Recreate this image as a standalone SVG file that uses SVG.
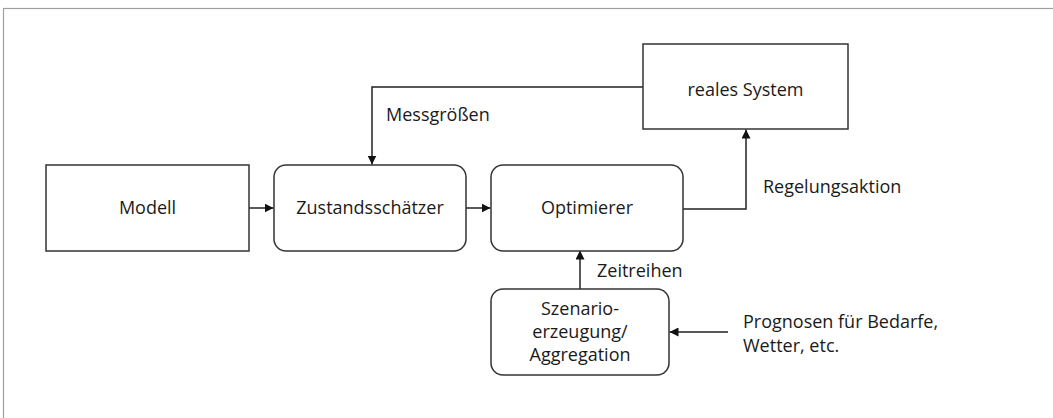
<svg xmlns="http://www.w3.org/2000/svg" width="1053" height="418" viewBox="0 0 1053 418">
<defs>
<style>
.box{fill:#fff;stroke:#333;stroke-width:1.5}
.con{fill:none;stroke:#222;stroke-width:1.5}
text{font-family:"Open Sans","Liberation Sans",sans-serif;font-size:18px;fill:#1a1a1a}
.c{text-anchor:middle}
</style>
<marker id="ah" viewBox="0 0 10 10" refX="10" refY="5" markerWidth="9" markerHeight="9" markerUnits="userSpaceOnUse" orient="auto">
<path d="M0,0 L10,5 L0,10 z" fill="#111"/>
</marker>
</defs>
<rect x="0" y="0" width="1053" height="418" fill="#fff"/>
<rect x="3.5" y="8.5" width="1060" height="420" fill="none" stroke="#a0a0a0" stroke-width="1.2"/>
<g id="connectors">
<path class="con" d="M643,87 H372 V164.5" marker-end="url(#ah)"/>
<path class="con" d="M249,208 H273.5" marker-end="url(#ah)"/>
<path class="con" d="M466,208 H490.5" marker-end="url(#ah)"/>
<path class="con" d="M683,209 H746 V129.5" marker-end="url(#ah)"/>
<path class="con" d="M580,289 V250.5" marker-end="url(#ah)"/>
<path class="con" d="M728,332 H669.5" marker-end="url(#ah)"/>
</g>
<g id="reales">
<rect class="box" x="643" y="44" width="205" height="85"/>
<text class="c" x="745.5" y="96">reales System</text>
</g>
<g id="modell">
<rect class="box" x="46" y="165" width="203" height="86"/>
<text class="c" x="147.5" y="214">Modell</text>
</g>
<g id="zustand">
<rect class="box" x="274" y="165" width="192" height="86" rx="12"/>
<text class="c" x="370" y="214">Zustandsschätzer</text>
</g>
<g id="optimierer">
<rect class="box" x="491" y="165" width="192" height="86" rx="12"/>
<text class="c" x="587" y="214">Optimierer</text>
</g>
<g id="szenario">
<rect class="box" x="491" y="289" width="178" height="86" rx="12"/>
<text class="c" x="580" y="315">Szenario-</text>
<text class="c" x="580" y="338">erzeugung/</text>
<text class="c" x="580" y="361">Aggregation</text>
</g>
<g id="labels">
<text x="386" y="121">Messgrößen</text>
<text x="763" y="193">Regelungsaktion</text>
<text x="597" y="277">Zeitreihen</text>
<text x="743" y="328">Prognosen für Bedarfe,</text>
<text x="743" y="352">Wetter, etc.</text>
</g>
</svg>
